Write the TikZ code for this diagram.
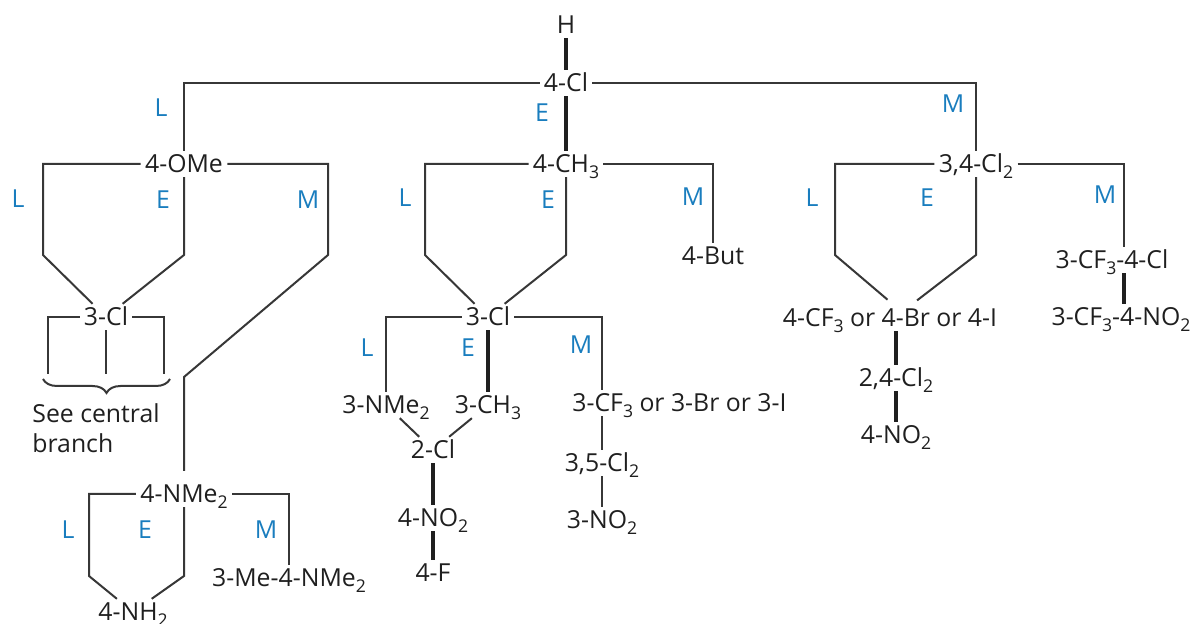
\documentclass[tikz,border=0pt]{standalone}
\usepackage{fontspec}
\setmainfont{Open Sans}
\usetikzlibrary{decorations.pathreplacing}
\definecolor{lblue}{RGB}{25,125,190}
\definecolor{inkgray}{RGB}{55,55,55}
\newcommand{\chsub}[1]{\raisebox{-0.45ex}{\fontsize{8.8pt}{9pt}\selectfont #1}}

\begin{document}
\begin{tikzpicture}[x=0.5pt, y=-0.5pt, font=\fontsize{12.4pt}{15pt}\selectfont,
	grp/.style={inner sep=2pt, text height=8.8pt, text depth=0pt, text=black!88},
	tag/.style={inner sep=0pt, text=lblue},
	branch/.style={line width=1pt, draw=inkgray},
	mainline/.style={line width=2pt, draw=black!88}]
	\useasboundingbox (0,0) rectangle (1193,624);
	\node[grp] (h) at (566,25) {H};
	\node[grp] (cl4) at (566,83) {4-Cl};
	\node[grp] (ome) at (184,164) {4-OMe};
	\node[grp] (me4) at (566,164) {4-CH\chsub{3}};
	\node[grp] (cl34) at (976,164) {3,4-Cl\chsub{2}};
	\draw[mainline] (h) -- (cl4);
	\draw[mainline] (cl4) -- (me4);
	\draw[branch] (cl4.west) -| (ome.north);
	\draw[branch] (cl4.east) -| (cl34.north);
	\node[tag] (lt) at (161,108) {L};
	\node[tag] (et) at (542,113) {E};
	\node[tag] (mt) at (953,104) {M};
	\node[grp] (cla) at (106,317) {3-Cl};
	\node[grp] (nme) at (184,494) {4-NMe\chsub{2}};
	\coordinate (omeL) at (43,255);
	\coordinate (omeE) at (184,255);
	\coordinate (omeM) at (328,255);
	\coordinate (omeN) at (184,377);
	\draw[branch] (ome.west) -| (omeL) -- (cla);
	\draw[branch] (ome.south) -- (omeE) -- (cla);
	\draw[branch, shorten >=5pt] (ome.east) -| (omeM) -- (omeN) -- (nme);
	\node[tag] (lo) at (18,199) {L};
	\node[tag] (eo) at (163,200) {E};
	\node[tag] (mo) at (308,200) {M};
	\coordinate (claL) at (48,374);
	\coordinate (claR) at (164,374);
	\draw[branch] (cla.west) -| (claL);
	\draw[branch] (cla.east) -| (claR);
	\draw[branch] (cla.south) -- (cla.south |- claL);
	\draw[branch, decorate, decoration={brace, amplitude=7pt}] (170,379) -- (43,379);
	\node[align=left, anchor=north west, inner sep=0pt, text=black!88] (seeb) at (32,403) {See central\\branch};
	\node[grp] (nh2) at (133,612) {4-NH\chsub{2}};
	\node[grp] (mme) at (289,578) {3-Me-4-NMe\chsub{2}};
	\coordinate (nmeL) at (89,576);
	\coordinate (nmeE) at (184,576);
	\draw[branch] (nme.west) -| (nmeL) -- (nh2);
	\draw[branch] (nme.south) -- (nmeE) -- (nh2);
	\draw[branch] (nme.east) -| (mme.north);
	\node[tag] (ln) at (68,530) {L};
	\node[tag] (en) at (145,530) {E};
	\node[tag] (mn) at (266,530) {M};
	\node[grp] (but) at (713,256) {4-But};
	\node[grp] (clb) at (488,317) {3-Cl};
	\coordinate (meL) at (425,255);
	\coordinate (meE) at (566,255);
	\draw[branch] (me4.west) -| (meL) -- (clb);
	\draw[branch] (me4.south) -- (meE) -- (clb);
	\draw[branch] (me4.east) -| (but.north);
	\node[tag] (lm) at (405,198) {L};
	\node[tag] (em) at (548,200) {E};
	\node[tag] (mm) at (693,197) {M};
	\node[grp] (nmeb) at (386,405) {3-NMe\chsub{2}};
	\node[grp] (meb) at (488,405) {3-CH\chsub{3}};
	\node[grp, anchor=west] (cfb) at (568,403) {3-CF\chsub{3} or 3-Br or 3-I};
	\node[grp] (clc) at (433,450) {2-Cl};
	\node[grp] (nob) at (433,518) {4-NO\chsub{2}};
	\node[grp] (fb) at (433,573) {4-F};
	\node[grp] (cl35) at (602,463) {3,5-Cl\chsub{2}};
	\node[grp] (nof) at (602,520) {3-NO\chsub{2}};
	\draw[branch] (clb.west) -| (nmeb.north);
	\draw[mainline] (clb) -- (meb);
	\draw[branch] (clb.east) -| ([xshift=17pt]cfb.north west);
	\draw[branch] (nmeb) -- (clc);
	\draw[branch] (meb) -- (clc);
	\draw[mainline] (clc) -- (nob);
	\draw[mainline] (nob) -- (fb);
	\draw[branch] ([xshift=17pt]cfb.south west) -- (cl35);
	\draw[branch] (cl35) -- (nof);
	\node[tag] (lc) at (367,348) {L};
	\node[tag] (ec) at (468,348) {E};
	\node[tag] (mc) at (581,345) {M};
	\node[grp] (brx) at (890,318) {4-CF\chsub{3} or 4-Br or 4-I};
	\node[grp] (cl24) at (896,378) {2,4-Cl\chsub{2}};
	\node[grp] (nod) at (896,435) {4-NO\chsub{2}};
	\node[grp] (cfc) at (1112,260) {3-CF\chsub{3}-4-Cl};
	\node[grp] (cfd) at (1121,317) {3-CF\chsub{3}-4-NO\chsub{2}};
	\coordinate (clL) at (835,255);
	\coordinate (clE) at (976,255);
	\draw[branch, shorten >=9.5pt] (cl34.west) -| (clL) -- ([shift={(6pt,3pt)}]brx.center);
	\draw[branch, shorten >=9.5pt] (cl34.south) -- (clE) -- ([shift={(6pt,3pt)}]brx.center);
	\draw[branch] (cl34.east) -| ([xshift=6pt]cfc.north);
	\draw[mainline] ([xshift=6pt]cfc.south) -- ([xshift=6pt]cfc.south |- cfd.north);
	\draw[mainline] (brx.south -| cl24.north) -- (cl24.north);
	\draw[mainline] (cl24) -- (nod);
	\node[tag] (lr) at (812,198) {L};
	\node[tag] (er) at (927,198) {E};
	\node[tag] (mr) at (1105,195) {M};
\end{tikzpicture}
\end{document}
